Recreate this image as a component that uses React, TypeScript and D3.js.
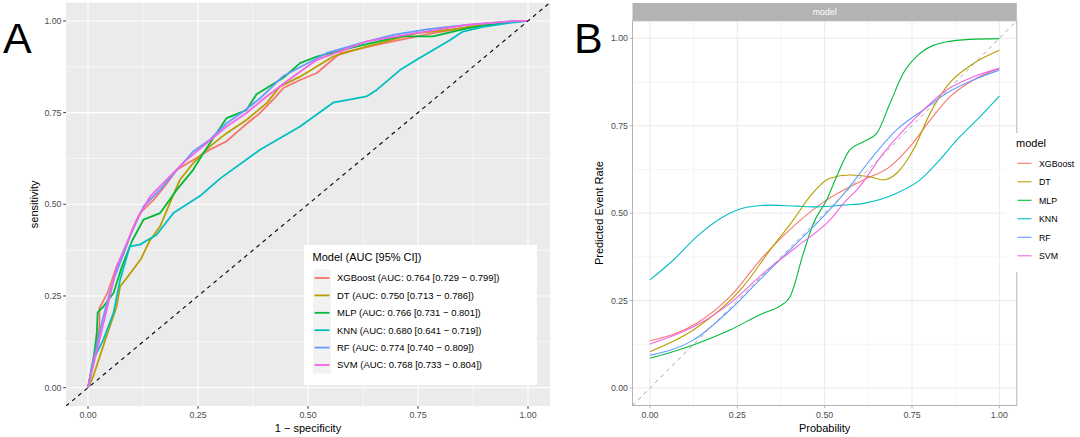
import React from 'react';
import * as d3 from 'd3';

type Pt = [number, number];

const models = ['XGBoost', 'DT', 'MLP', 'KNN', 'RF', 'SVM'];
const colors = ['#F8766D', '#B79F00', '#00BA38', '#00BFC4', '#619CFF', '#F564E3'];
const aucLabels = [
  'XGBoost (AUC: 0.764 [0.729 − 0.799])',
  'DT (AUC: 0.750 [0.713 − 0.786])',
  'MLP (AUC: 0.766 [0.731 − 0.801])',
  'KNN (AUC: 0.680 [0.641 − 0.719])',
  'RF (AUC: 0.774 [0.740 − 0.809])',
  'SVM (AUC: 0.768 [0.733 − 0.804])',
];

// ROC curves: [1 - specificity, sensitivity]
const rocXGBoost: Pt[] = [[0,0],[0.012,0.08],[0.026,0.167],[0.026,0.217],[0.045,0.26],[0.065,0.33],[0.08,0.362],[0.1,0.43],[0.118,0.476],[0.149,0.512],[0.175,0.55],[0.202,0.594],[0.239,0.621],[0.277,0.649],[0.315,0.672],[0.353,0.712],[0.391,0.749],[0.42,0.785],[0.444,0.817],[0.482,0.839],[0.52,0.858],[0.573,0.912],[0.671,0.939],[0.784,0.967],[0.898,0.989],[0.974,1],[1,1]];
const rocDT: Pt[] = [[0,0],[0.012,0.031],[0.042,0.14],[0.065,0.221],[0.073,0.276],[0.095,0.31],[0.12,0.35],[0.14,0.4],[0.164,0.44],[0.186,0.503],[0.209,0.567],[0.239,0.612],[0.277,0.658],[0.315,0.694],[0.36,0.73],[0.406,0.776],[0.436,0.821],[0.482,0.848],[0.557,0.903],[0.633,0.93],[0.747,0.967],[0.823,0.976],[0.929,0.995],[1,1]];
const rocMLP: Pt[] = [[0,0],[0.012,0.07],[0.02,0.15],[0.022,0.205],[0.035,0.221],[0.058,0.258],[0.077,0.33],[0.1,0.4],[0.126,0.458],[0.164,0.476],[0.202,0.54],[0.239,0.594],[0.262,0.639],[0.292,0.694],[0.315,0.735],[0.36,0.757],[0.383,0.8],[0.444,0.845],[0.482,0.885],[0.52,0.903],[0.595,0.926],[0.709,0.958],[0.784,0.958],[0.861,0.98],[0.974,1],[1,1]];
const rocKNN: Pt[] = [[0,0],[0.012,0.076],[0.035,0.131],[0.058,0.204],[0.073,0.294],[0.095,0.385],[0.118,0.39],[0.156,0.417],[0.194,0.476],[0.255,0.523],[0.3,0.57],[0.391,0.649],[0.482,0.712],[0.557,0.777],[0.633,0.794],[0.656,0.812],[0.709,0.866],[0.747,0.894],[0.823,0.948],[0.852,0.971],[0.898,0.984],[0.959,0.995],[1,1]];
const rocRF: Pt[] = [[0,0],[0.012,0.07],[0.03,0.17],[0.045,0.24],[0.061,0.303],[0.095,0.412],[0.126,0.494],[0.164,0.54],[0.202,0.594],[0.239,0.644],[0.277,0.676],[0.315,0.721],[0.353,0.753],[0.391,0.789],[0.444,0.85],[0.542,0.912],[0.618,0.939],[0.694,0.962],[0.77,0.977],[0.861,0.989],[0.974,1],[1,1]];
const rocSVM: Pt[] = [[0,0],[0.012,0.06],[0.03,0.15],[0.05,0.25],[0.065,0.33],[0.111,0.458],[0.141,0.521],[0.186,0.576],[0.224,0.621],[0.27,0.667],[0.315,0.712],[0.36,0.749],[0.406,0.794],[0.451,0.835],[0.52,0.894],[0.633,0.944],[0.747,0.967],[0.861,0.989],[0.974,1],[1,1]];
const rocData = [rocXGBoost, rocDT, rocMLP, rocKNN, rocRF, rocSVM];

// Calibration curves: [probability, predicted event rate]
const calXGBoost: Pt[] = [[0,0.135],[0.134,0.185],[0.229,0.261],[0.324,0.376],[0.42,0.471],[0.506,0.538],[0.611,0.595],[0.687,0.633],[0.744,0.69],[0.802,0.766],[0.859,0.833],[0.926,0.881],[1,0.914]];
const calDT: Pt[] = [[0,0.104],[0.124,0.166],[0.267,0.29],[0.344,0.395],[0.41,0.48],[0.458,0.548],[0.515,0.6],[0.572,0.609],[0.63,0.604],[0.668,0.595],[0.706,0.614],[0.754,0.681],[0.802,0.786],[0.849,0.862],[0.926,0.928],[1,0.966]];
const calMLP: Pt[] = [[0,0.085],[0.124,0.123],[0.229,0.166],[0.324,0.214],[0.372,0.234],[0.401,0.261],[0.439,0.385],[0.468,0.471],[0.506,0.538],[0.534,0.604],[0.572,0.681],[0.611,0.704],[0.649,0.728],[0.687,0.814],[0.725,0.9],[0.773,0.957],[0.849,0.99],[0.916,0.997],[1,0.999]];
const calKNN: Pt[] = [[0,0.309],[0.067,0.366],[0.134,0.433],[0.21,0.49],[0.277,0.517],[0.344,0.523],[0.42,0.52],[0.477,0.518],[0.553,0.523],[0.611,0.528],[0.706,0.557],[0.773,0.595],[0.821,0.643],[0.878,0.709],[0.945,0.776],[1,0.835]];
const calRF: Pt[] = [[0,0.094],[0.124,0.137],[0.229,0.223],[0.324,0.319],[0.42,0.414],[0.496,0.49],[0.563,0.565],[0.63,0.652],[0.706,0.738],[0.782,0.795],[0.849,0.843],[0.926,0.881],[1,0.909]];
const calSVM: Pt[] = [[0,0.126],[0.134,0.18],[0.229,0.242],[0.324,0.328],[0.42,0.404],[0.515,0.48],[0.563,0.538],[0.592,0.566],[0.668,0.671],[0.754,0.766],[0.849,0.852],[0.926,0.89],[1,0.914]];
const calData = [calXGBoost, calDT, calMLP, calKNN, calRF, calSVM];

const majorTicks = [0, 0.25, 0.5, 0.75, 1];
const minorTicks = [0.125, 0.375, 0.625, 0.875];
const tickLabels = ['0.00', '0.25', '0.50', '0.75', '1.00'];

const FONT = '"Liberation Sans", Arial, Helvetica, sans-serif';

export default function App() {
  // Panel A scales
  const ax = d3.scaleLinear().domain([-0.05, 1.05]).range([66, 550]);
  const ay = d3.scaleLinear().domain([-0.05, 1.05]).range([406, 2.6]);
  // Panel B scales
  const bx = d3.scaleLinear().domain([-0.05, 1.05]).range([632.5, 1016.8]);
  const by = d3.scaleLinear().domain([-0.05, 1.05]).range([405.5, 20.8]);

  const lineA = d3.line<Pt>().x(d => ax(d[0])).y(d => ay(d[1]));
  const lineB = d3.line<Pt>().x(d => bx(d[0])).y(d => by(d[1])).curve(d3.curveMonotoneX);

  const [axL, axR] = ax.range();
  const [ayB, ayT] = ay.range();
  const [bxL, bxR] = bx.range();
  const [byB, byT] = by.range();

  return (
    <svg width={1080} height={437} style={{ position: 'absolute', left: 0, top: 0, background: '#fff' }} fontFamily={FONT}>
      <rect x={0} y={0} width={1080} height={437} fill="#fff" />
      {/* ===== Panel A ===== */}
      <text x={3} y={53} fontSize={43} fill="#000" fontFamily={FONT}>A</text>
      <rect x={axL} y={ayT} width={axR - axL} height={ayB - ayT} fill="#EBEBEB" />
      {minorTicks.map(t => (
        <g key={'amn' + t}>
          <line x1={ax(t)} x2={ax(t)} y1={ayT} y2={ayB} stroke="#fff" strokeWidth={0.55} />
          <line x1={axL} x2={axR} y1={ay(t)} y2={ay(t)} stroke="#fff" strokeWidth={0.55} />
        </g>
      ))}
      {majorTicks.map(t => (
        <g key={'amj' + t}>
          <line x1={ax(t)} x2={ax(t)} y1={ayT} y2={ayB} stroke="#fff" strokeWidth={1.1} />
          <line x1={axL} x2={axR} y1={ay(t)} y2={ay(t)} stroke="#fff" strokeWidth={1.1} />
        </g>
      ))}
      <g clipPath="url(#clipA)">
        {rocData.map((d, i) => (
          <path key={'roc' + i} d={lineA(d) || ''} fill="none" stroke={colors[i]} strokeWidth={1.8} strokeLinejoin="round" />
        ))}
        <line x1={ax(-0.05)} y1={ay(-0.05)} x2={ax(1.05)} y2={ay(1.05)} stroke="#000" strokeWidth={1.1} strokeDasharray="4,4" />
      </g>
      <defs>
        <clipPath id="clipA"><rect x={axL} y={ayT} width={axR - axL} height={ayB - ayT} /></clipPath>
        <clipPath id="clipB"><rect x={bxL} y={byT} width={bxR - bxL} height={byB - byT} /></clipPath>
      </defs>
      {majorTicks.map((t, i) => (
        <g key={'ata' + t}>
          <line x1={ax(t)} x2={ax(t)} y1={ayB} y2={ayB + 2.75} stroke="#333" strokeWidth={1} />
          <text x={ax(t)} y={ayB + 12} fontSize={8.8} fill="#4D4D4D" textAnchor="middle">{tickLabels[i]}</text>
          <line x1={axL - 2.75} x2={axL} y1={ay(t)} y2={ay(t)} stroke="#333" strokeWidth={1} />
          <text x={axL - 4.5} y={ay(t) + 3.1} fontSize={8.8} fill="#4D4D4D" textAnchor="end">{tickLabels[i]}</text>
        </g>
      ))}
      <text x={(axL + axR) / 2} y={432} fontSize={11} textAnchor="middle" fill="#000">1 − specificity</text>
      <text transform={`translate(38,${(ayT + ayB) / 2}) rotate(-90)`} fontSize={11} textAnchor="middle" fill="#000">sensitivity</text>
      {/* Legend A */}
      <rect x={304} y={245} width={233} height={140} fill="#fff" />
      <text x={312.5} y={261} fontSize={11} fill="#000">Model (AUC [95% CI])</text>
      {models.map((m, i) => {
        const cy = 278 + i * 17.4;
        return (
          <g key={'lgA' + m}>
            <rect x={313} y={cy - 8.7} width={18} height={17.4} fill="#F2F2F2" />
            <line x1={314.5} x2={329.5} y1={cy} y2={cy} stroke={colors[i]} strokeWidth={1.8} />
            <text x={337} y={cy + 3.3} fontSize={9.5} fill="#000">{aucLabels[i]}</text>
          </g>
        );
      })}

      {/* ===== Panel B ===== */}
      <text x={574} y={53} fontSize={43} fill="#000" fontFamily={FONT}>B</text>
      <rect x={bxL} y={byT} width={bxR - bxL} height={byB - byT} fill="#fff" />
      {minorTicks.map(t => (
        <g key={'bmn' + t}>
          <line x1={bx(t)} x2={bx(t)} y1={byT} y2={byB} stroke="#EFEFEF" strokeWidth={0.6} />
          <line x1={bxL} x2={bxR} y1={by(t)} y2={by(t)} stroke="#EFEFEF" strokeWidth={0.6} />
        </g>
      ))}
      {majorTicks.map(t => (
        <g key={'bmj' + t}>
          <line x1={bx(t)} x2={bx(t)} y1={byT} y2={byB} stroke="#E3E3E3" strokeWidth={0.8} />
          <line x1={bxL} x2={bxR} y1={by(t)} y2={by(t)} stroke="#E3E3E3" strokeWidth={0.8} />
        </g>
      ))}
      <g clipPath="url(#clipB)">
        {calData.map((d, i) => (
          <path key={'cal' + i} d={lineB(d) || ''} fill="none" stroke={colors[i]} strokeWidth={1.1} />
        ))}
        <line x1={bx(-0.05)} y1={by(-0.05)} x2={bx(1.05)} y2={by(1.05)} stroke="#A6A6A6" strokeWidth={1} strokeDasharray="4,4" />
      </g>
      <rect x={bxL} y={byT} width={bxR - bxL} height={byB - byT} fill="none" stroke="#B3B3B3" strokeWidth={1} />
      <rect x={bxL} y={3} width={bxR - bxL} height={byT - 3} fill="#B3B3B3" />
      <text x={(bxL + bxR) / 2} y={15} fontSize={8.8} fill="#fff" textAnchor="middle">model</text>
      {majorTicks.map((t, i) => (
        <g key={'bta' + t}>
          <line x1={bx(t)} x2={bx(t)} y1={byB} y2={byB + 2.75} stroke="#B3B3B3" strokeWidth={1} />
          <text x={bx(t)} y={byB + 12} fontSize={8.8} fill="#4D4D4D" textAnchor="middle">{tickLabels[i]}</text>
          <line x1={bxL - 2.75} x2={bxL} y1={by(t)} y2={by(t)} stroke="#B3B3B3" strokeWidth={1} />
          <text x={bxL - 4.5} y={by(t) + 3.1} fontSize={8.8} fill="#4D4D4D" textAnchor="end">{tickLabels[i]}</text>
        </g>
      ))}
      <text x={(bxL + bxR) / 2} y={432} fontSize={11} textAnchor="middle" fill="#000">Probability</text>
      <text transform={`translate(603,${(byT + byB) / 2}) rotate(-90)`} fontSize={11} textAnchor="middle" fill="#000">Predicted Event Rate</text>
      {/* Legend B */}
      <rect x={1006} y={133} width={74} height={139} fill="#fff" />
      <text x={1016} y={147} fontSize={11} fill="#000">model</text>
      {models.map((m, i) => {
        const cy = 163.3 + i * 18.5;
        return (
          <g key={'lgB' + m}>
            <line x1={1017.5} x2={1031.5} y1={cy} y2={cy} stroke={colors[i]} strokeWidth={1.1} />
            <text x={1039} y={cy + 3.2} fontSize={8.8} fill="#000">{m}</text>
          </g>
        );
      })}
    </svg>
  );
}
